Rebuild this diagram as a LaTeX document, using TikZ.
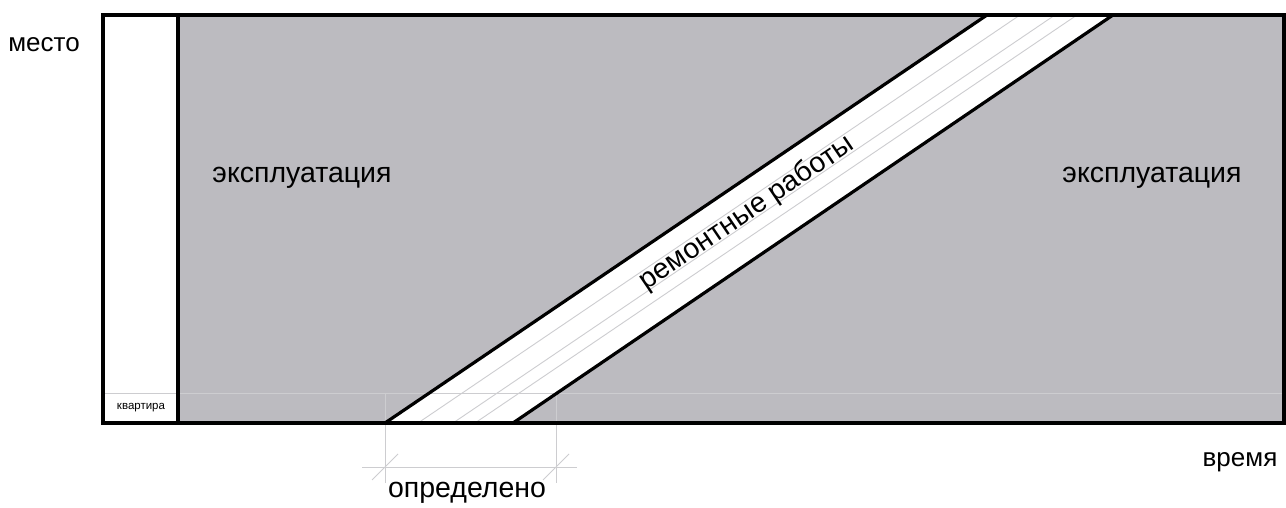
\documentclass[tikz,border=0pt]{standalone}
\usepackage{fontspec}
\setmainfont{Liberation Sans}
\definecolor{fillgray}{HTML}{BCBBC0}
\definecolor{thingray}{HTML}{CDCDD0}
\begin{document}
\begin{tikzpicture}[x=1pt,y=-1pt,
  thick line/.style={line width=3.2pt,black},
  thin line/.style={line width=0.9pt,thingray},
  bigtxt/.style={font=\fontsize{28.5}{28.5}\selectfont,inner sep=0pt},
  midtxt/.style={font=\fontsize{26}{26}\selectfont,inner sep=0pt},
  smalltxt/.style={font=\fontsize{11.5}{11.5}\selectfont,inner sep=0pt}]
\useasboundingbox (0,0) rectangle (1286,508);
% corners
\coordinate (TL) at (103,15);
\coordinate (TR) at (1284,15);
\coordinate (BL) at (103,423);
\coordinate (BR) at (1284,423);
\coordinate (CT) at (178,15);
\coordinate (CB) at (178,423);
% band
\coordinate (B1) at (385,423);
\coordinate (T1) at (987,15);
\coordinate (B2) at (513,423);
\coordinate (T2) at (1113,15);
% grey area
\fill[fillgray] (CT) rectangle (BR);
\fill[white] (B1) -- (T1) -- (T2) -- (B2) -- cycle;
% thin lines inside band
\begin{scope}
  \clip (B1) -- (T1) -- (T2) -- (B2) -- cycle;
  \foreach \o in {33,68,90}{
    \draw[thin line] ([xshift=\o pt]B1) -- ([xshift=\o pt]T1);
  }
\end{scope}
% horizontal reference line
\coordinate (HL) at (103,393);
\coordinate (HR) at (1284,393);
\draw[thin line] (HL) -- (HR);
% dimension
\coordinate (D1t) at (385,393);
\coordinate (D1b) at (385,483);
\coordinate (D2t) at (556,393);
\coordinate (D2b) at (556,483);
\coordinate (DL) at (362,467);
\coordinate (DR) at (577,467);
\draw[thin line] (D1t) -- (D1b);
\draw[thin line] (D2t) -- (D2b);
\draw[thin line] (DL) -- (DR);
\coordinate (K1a) at (372,480);
\coordinate (K1b) at (398,454);
\coordinate (K2a) at (543,480);
\coordinate (K2b) at (569,454);
\draw[thin line] (K1a) -- (K1b);
\draw[thin line] (K2a) -- (K2b);
% black lines
\draw[thick line] (B1) -- (T1);
\draw[thick line] (B2) -- (T2);
\draw[thick line] (CT) -- (CB);
\draw[thick line,line join=miter] (TL) rectangle (BR);
% texts
\node[midtxt] (mesto) at (44,45) {место};
\node[bigtxt] (expl1) at (302,178) {эксплуатация};
\node[bigtxt] (expl2) at (1152,178) {эксплуатация};
\node[midtxt] (vremya) at (1240,462) {время};
\node[bigtxt] (opr) at (467,493) {определено};
\node[smalltxt] (kv) at (141,408) {квартира};
\node[bigtxt,rotate=34.1] (rem) at (747,213) {ремонтные работы};
\end{tikzpicture}
\end{document}
